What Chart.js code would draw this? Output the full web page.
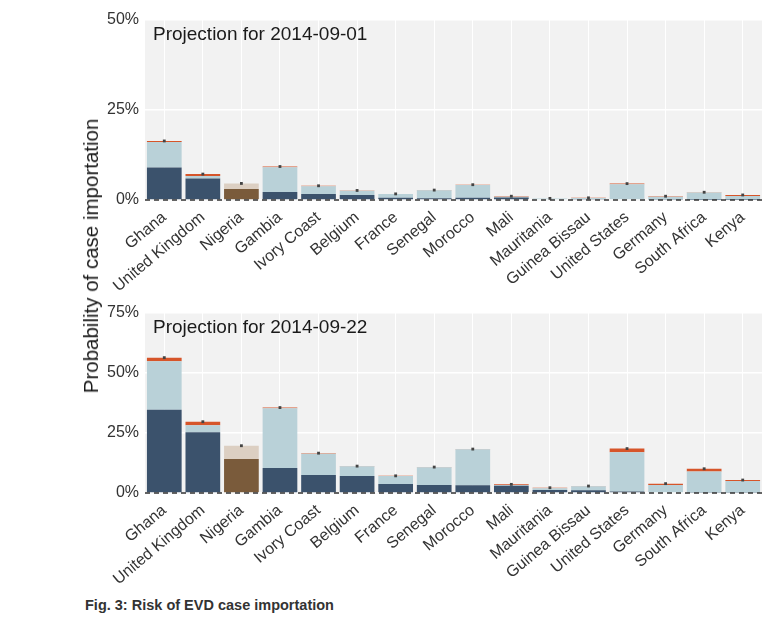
<!DOCTYPE html>
<html>
<head>
<meta charset="utf-8">
<script src="https://cdn.jsdelivr.net/npm/chart.js@4.4.1/dist/chart.umd.min.js"></script>
<style>
body { margin: 0; background: #fff; width: 776px; height: 617px; position: relative; overflow: hidden; font-family: 'Liberation Sans', Arial, sans-serif; }
.panel { position: absolute; left: 0; width: 776px; }
#ytitle { position: absolute; left: 91px; top: 256px; transform: translate(-50%, -50%) rotate(-90deg); white-space: nowrap; font-size: 20.5px; line-height: 20px; color: #1a1a1a; }
#caption { position: absolute; left: 85px; top: 597px; font-weight: bold; font-size: 14.5px; color: #333; white-space: nowrap; }
</style>
</head>
<body>
<div class="panel" style="top:0;height:293px"><canvas id="c1" width="776" height="293"></canvas></div>
<div class="panel" style="top:293px;height:300px"><canvas id="c2" width="776" height="300"></canvas></div>
<div id="ytitle">Probability of case importation</div>
<div id="caption">Fig. 3: Risk of EVD case importation</div>
<script>
var countries = ["Ghana", "United Kingdom", "Nigeria", "Gambia", "Ivory Coast", "Belgium", "France", "Senegal",
  "Morocco", "Mali", "Mauritania", "Guinea Bissau", "United States", "Germany", "South Africa", "Kenya"];

// 2014-09-01, percent, stacked segments
var sep01Dark   = [9.0, 6.0, 3.05, 2.2, 1.7, 1.4, 0.65, 0.5, 0.6, 0.7, 0.2, 0.25, 0.2, 0.15, 0.1, 0.1];
var sep01Light  = [7.1, 0.7, 1.55, 6.9, 2.1, 1.2, 1.0, 2.2, 3.6, 0.2, 0.2, 0.3, 4.15, 0.75, 2.0, 1.0];
var sep01Orange = [0.3, 0.5, 0, 0.2, 0.15, 0.05, 0.05, 0.05, 0.05, 0.15, 0.05, 0.05, 0.2, 0.15, 0.05, 0.3];

// 2014-09-22
var sep22Dark   = [34.7, 25.3, 14.2, 10.4, 7.5, 7.1, 3.75, 3.3, 3.2, 3.0, 1.25, 1.1, 0.6, 0.3, 0.2, 0.2];
var sep22Light  = [20.2, 2.9, 5.5, 24.9, 8.9, 4.0, 3.35, 7.4, 15.0, 0.3, 0.75, 1.7, 16.4, 3.0, 8.8, 4.8];
var sep22Orange = [1.5, 1.5, 0, 0.3, 0.2, 0.1, 0.05, 0.1, 0.1, 0.3, 0.2, 0.1, 1.5, 0.6, 1.1, 0.4];

var yTicks01 = [0, 25, 50];
var yTicks22 = [0, 25, 50, 75];

var darkBlue = "#3b526c";
var lightBlue = "#b9d1d8";
var orange = "#d6552a";
var brown = "#7a5b3b";
var tan = "#dccfc2";

Chart.defaults.font.family = "'Liberation Sans', Arial, sans-serif";

var panelPlugin = {
  id: "panel",
  beforeDraw: function(chart) {
    var a = chart.chartArea, ctx = chart.ctx;
    ctx.save();
    ctx.fillStyle = "#f2f2f2";
    ctx.fillRect(a.left, a.top, a.right - a.left, a.bottom - a.top + 1);
    ctx.restore();
  },
  afterDatasetsDraw: function(chart) {
    var a = chart.chartArea, ctx = chart.ctx;
    var y0 = chart.scales.y.getPixelForValue(0);
    ctx.save();
    ctx.strokeStyle = "#333";
    ctx.lineWidth = 1.5;
    ctx.setLineDash([5, 4]);
    ctx.beginPath();
    ctx.moveTo(a.left, y0);
    ctx.lineTo(a.right, y0);
    ctx.stroke();
    ctx.setLineDash([]);
    ctx.fillStyle = "#1a1a1a";
    ctx.font = "19px 'Liberation Sans', Arial, sans-serif";
    ctx.textBaseline = "alphabetic";
    ctx.fillText(chart.options.plugins.panel.title, a.left + 8, a.top + 20);
    ctx.restore();
  }
};

function sum3(a, b, c) {
  return a.map(function(v, i) { return v + b[i] + c[i]; });
}

function makeChart(id, title, dark, light, orng, ticks, xHeight) {
  var ymax = ticks[ticks.length - 1];
  return new Chart(document.getElementById(id), {
    type: "bar",
    data: {
      labels: countries,
      datasets: [
        { data: dark, backgroundColor: countries.map(function(c) { return c === "Nigeria" ? brown : darkBlue; }), order: 1 },
        { data: light, backgroundColor: countries.map(function(c) { return c === "Nigeria" ? tan : lightBlue; }), order: 1 },
        { data: orng, backgroundColor: orange, order: 1 },
        { type: "line", data: sum3(dark, light, orng), stack: "dots", showLine: false, order: 0,
          pointRadius: 2, pointStyle: "rect", pointBackgroundColor: "#444", pointBorderWidth: 0 }
      ]
    },
    options: {
      responsive: false,
      animation: false,
      layout: { padding: { top: 20, right: 14, left: 0, bottom: 0 } },
      datasets: { bar: { barPercentage: 0.9, categoryPercentage: 1, borderWidth: 0 } },
      plugins: { legend: { display: false }, tooltip: { enabled: false }, panel: { title: title } },
      scales: {
        x: {
          stacked: true,
          grid: { offset: false, color: "#ffffff", lineWidth: 1, drawTicks: false },
          border: { display: false },
          ticks: { autoSkip: false, minRotation: 40, maxRotation: 40, padding: 8, color: "#333",
                   font: { size: 16 } },
          afterFit: function(s) { s.height = xHeight; }
        },
        y: {
          stacked: true,
          min: 0,
          max: ymax,
          grid: { color: "#ffffff", lineWidth: 1.5, drawTicks: false },
          border: { display: false },
          afterBuildTicks: function(s) { s.ticks = ticks.map(function(v) { return { value: v }; }); },
          ticks: { padding: 6, color: "#333", font: { size: 16 },
                   callback: function(v) { return v + "%"; } },
          afterFit: function(s) { s.width = 145; }
        }
      }
    },
    plugins: [panelPlugin]
  });
}

makeChart("c1", "Projection for 2014-09-01", sep01Dark, sep01Light, sep01Orange, yTicks01, 93);
makeChart("c2", "Projection for 2014-09-22", sep22Dark, sep22Light, sep22Orange, yTicks22, 100);
</script>
</body>
</html>
